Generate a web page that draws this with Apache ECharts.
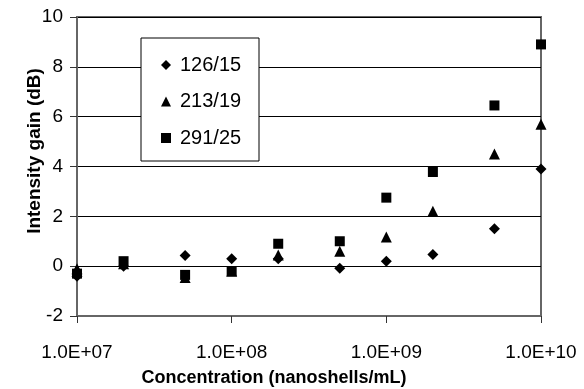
<!DOCTYPE html>
<html><head><meta charset="utf-8">
<script src="https://cdn.jsdelivr.net/npm/echarts@6/dist/echarts.min.js"></script>
<style>html,body{margin:0;padding:0;background:#fff}#c{width:584px;height:389px}</style>
</head><body><div id="c"></div>
<script>
const concentrations = [1e7, 2e7, 5e7, 1e8, 2e8, 5e8, 1e9, 2e9, 5e9, 1e10];
const series126 = [-0.4, 0.0, 0.43, 0.3, 0.3, -0.08, 0.2, 0.47, 1.5, 3.9];
const series213 = [-0.1, 0.1, -0.45, -0.2, 0.45, 0.6, 1.17, 2.2, 4.5, 5.7];
const series291 = [-0.3, 0.2, -0.35, -0.2, 0.9, 1.0, 2.75, 3.78, 6.45, 8.9];
const seriesNames = ['126/15', '213/19', '291/25'];
const xTickLabels = ['1.0E+07', '1.0E+08', '1.0E+09', '1.0E+10'];
const yTicks = [-2, 0, 2, 4, 6, 8, 10];

const FONT = 'Liberation Sans, Arial, sans-serif';
const pair = vals => concentrations.map((c, i) => [c, vals[i]]);
const chart = echarts.init(document.getElementById('c'));
chart.setOption({
  animation: false,
  backgroundColor: '#fff',
  grid: { left: 77, right: 43, top: 17, bottom: 73, show: true, borderColor: '#666', borderWidth: 2 },
  xAxis: {
    type: 'log', logBase: 10, min: 1e7, max: 1e10,
    axisLine: { show: true, onZero: false, lineStyle: { color: '#666', width: 2 } },
    axisTick: { show: true, inside: false, length: 7, lineStyle: { color: '#333', width: 1 } },
    minorTick: { show: false },
    splitLine: { show: false },
    axisLabel: { fontFamily: FONT, fontSize: 19, color: '#000', margin: 27,
      formatter: (v, i) => xTickLabels[i] },
  },
  yAxis: {
    type: 'value', min: yTicks[0], max: yTicks[yTicks.length - 1], interval: 2,
    axisLine: { show: true, lineStyle: { color: '#666', width: 2 } },
    axisTick: { show: true, inside: false, length: 7, lineStyle: { color: '#333', width: 1 } },
    splitLine: { show: true, lineStyle: { color: '#000', width: 1 } },
    axisLabel: { fontFamily: FONT, fontSize: 19, color: '#000', margin: 14 },
  },
  graphic: [
    { type: 'rect', z: 5, shape: { x: 141, y: 38, width: 118, height: 123 },
      style: { fill: '#fff', stroke: '#000', lineWidth: 1 } },
    { type: 'text', z: 5, x: 35, y: 151, rotation: Math.PI / 2,
      style: { text: 'Intensity gain (dB)', font: 'bold 19px Liberation Sans, Arial, sans-serif',
        fill: '#000', textAlign: 'center', textVerticalAlign: 'middle' } },
    { type: 'text', z: 5, x: 274, y: 378,
      style: { text: 'Concentration (nanoshells/mL)', font: 'bold 18px Liberation Sans, Arial, sans-serif',
        fill: '#000', textAlign: 'center', textVerticalAlign: 'middle' } }
  ],
  legend: {
    z: 10, orient: 'vertical', left: 161, top: 55, padding: 0,
    itemWidth: 10, itemHeight: 10, itemGap: 16.5,
    textStyle: { fontFamily: FONT, fontSize: 20, color: '#000', lineHeight: 20, padding: [0, 0, 0, 4] },
    data: [
      { name: seriesNames[0], icon: 'diamond' },
      { name: seriesNames[1], icon: 'triangle' },
      { name: seriesNames[2], icon: 'rect' }
    ]
  },
  series: [
    { name: seriesNames[0], type: 'scatter', symbol: 'diamond', symbolSize: 11,
      itemStyle: { color: '#000', opacity: 1 }, data: pair(series126) },
    { name: seriesNames[1], type: 'scatter', symbol: 'triangle', symbolSize: 11,
      itemStyle: { color: '#000', opacity: 1 }, data: pair(series213) },
    { name: seriesNames[2], type: 'scatter', symbol: 'rect', symbolSize: 10,
      itemStyle: { color: '#000', opacity: 1 }, data: pair(series291) }
  ]
});
</script></body></html>
